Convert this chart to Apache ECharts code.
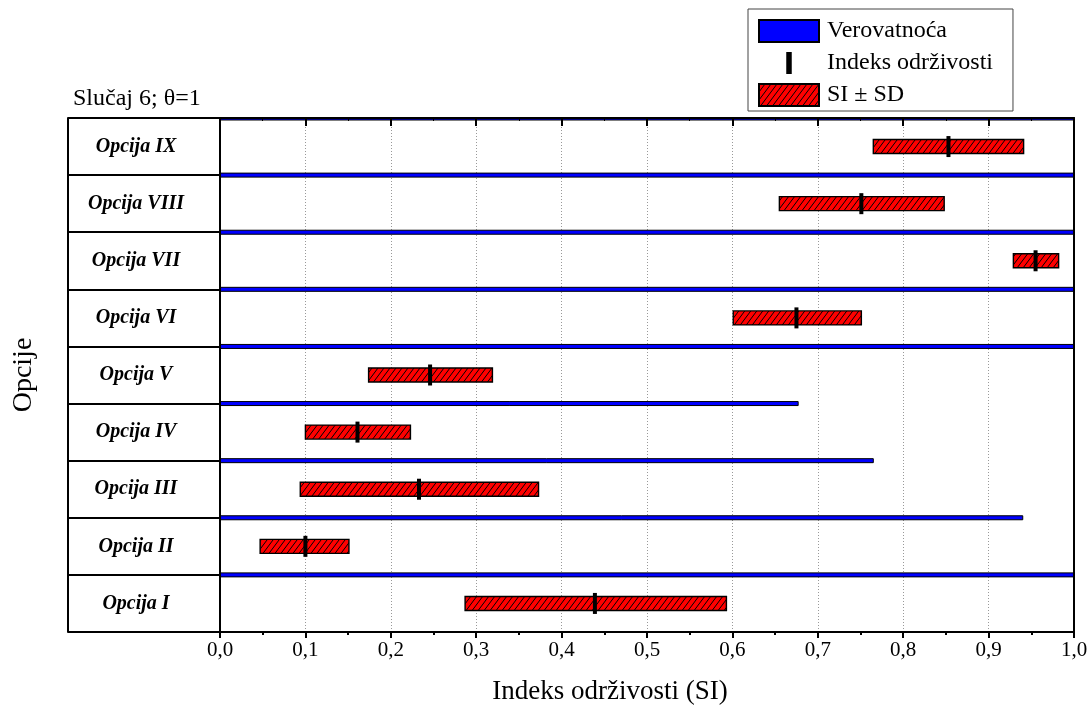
<!DOCTYPE html>
<html>
<head>
<meta charset="utf-8">
<script src="https://cdn.jsdelivr.net/npm/echarts@6/dist/echarts.min.js"></script>
<style>
html,body{margin:0;padding:0;background:#fff;}
#chart{width:1092px;height:709px;}
</style>
</head>
<body>
<div id="chart"></div>
<script>
// ---- data ----
const categories = ['Opcija I','Opcija II','Opcija III','Opcija IV','Opcija V','Opcija VI','Opcija VII','Opcija VIII','Opcija IX'];
const siValues = [0.439, 0.100, 0.233, 0.161, 0.246, 0.675, 0.955, 0.751, 0.853];
const sdLow    = [0.287, 0.047, 0.094, 0.100, 0.174, 0.601, 0.929, 0.655, 0.765];
const sdHigh   = [0.593, 0.151, 0.373, 0.223, 0.319, 0.751, 0.982, 0.848, 0.941];
const probability = [1.0, 0.94, 0.765, 0.677, 1.0, 1.0, 1.0, 1.0, 1.0];
const seriesNames = ['Verovatnoća', 'Indeks održivosti', 'SI ± SD'];
const titleText = 'Slučaj 6; θ=1';
const xName = 'Indeks održivosti (SI)';
const yName = 'Opcije';

// ---- hatch pattern ----
const pc = document.createElement('canvas');
pc.width = 6; pc.height = 8;
const pctx = pc.getContext('2d');
pctx.fillStyle = '#ff0000';
pctx.fillRect(0, 0, 6, 8);
pctx.strokeStyle = '#000';
pctx.lineWidth = 1;
pctx.beginPath();
pctx.moveTo(0, 8); pctx.lineTo(6, 0);
pctx.moveTo(-6, 8); pctx.lineTo(0, 0);
pctx.moveTo(6, 8); pctx.lineTo(12, 0);
pctx.stroke();
const hatch = { image: pc, repeat: 'repeat' };

const FONT = '"Liberation Serif", "Times New Roman", serif';
const chart = echarts.init(document.getElementById('chart'), null, { renderer: 'canvas' });

const option = {
  backgroundColor: '#fff',
  animation: false,
  title: {
    text: titleText,
    left: 68, top: 82,
    textStyle: { fontFamily: FONT, fontSize: 24, fontWeight: 'normal', color: '#000' }
  },
  legend: {
    orient: 'vertical',
    left: 748, top: 9,
    padding: [10, 20, 4, 10],
    itemWidth: 60, itemHeight: 22, itemGap: 8,
    borderColor: '#444', borderWidth: 1, backgroundColor: '#fff',
    textStyle: { fontFamily: FONT, fontSize: 24, color: '#000', padding: [0, 0, 0, 3] },
    data: [
      { name: seriesNames[0], icon: 'rect' },
      { name: seriesNames[1], icon: 'path://M0,0h1v4h-1z' },
      { name: seriesNames[2], icon: 'rect' }
    ]
  },
  grid: { left: 220, right: 18, top: 118, bottom: 77, containLabel: false, outerBoundsMode: 'none' },
  xAxis: [
    {
      type: 'value', min: 0, max: 1, interval: 0.1, position: 'bottom',
      name: xName, nameLocation: 'middle', nameGap: 46,
      nameTextStyle: { fontFamily: FONT, fontSize: 27, color: '#000', padding: [0, 74, 0, 0] },
      axisLine: { show: true, onZero: false, lineStyle: { color: '#000', width: 2 } },
      axisTick: { show: true, inside: false, length: 6, lineStyle: { color: '#000', width: 2 } },
      minorTick: { show: true, splitNumber: 2, length: 3, lineStyle: { color: '#000', width: 2 } },
      axisLabel: { margin: 8, fontFamily: FONT, fontSize: 21, color: '#000',
        formatter: v => v.toFixed(1).replace('.', ',') },
      splitLine: { show: true, lineStyle: { color: '#999', type: [1, 2], width: 1 } }
    },
    {
      type: 'value', min: 0, max: 1, interval: 0.1, position: 'top', z: 10,
      axisLine: { show: true, onZero: false, lineStyle: { color: '#000', width: 2 } },
      axisTick: { show: true, inside: true, length: 8, lineStyle: { color: '#000', width: 2 } },
      minorTick: { show: true, splitNumber: 2, length: 3, lineStyle: { color: '#000', width: 1 } },
      axisLabel: { show: false },
      splitLine: { show: false }
    }
  ],
  yAxis: [
    {
      type: 'category', data: categories, position: 'left', boundaryGap: true, z: 10,
      name: yName, nameLocation: 'middle', nameGap: 182, nameRotate: 90,
      nameTextStyle: { fontFamily: FONT, fontSize: 28, color: '#000' },
      axisLine: { show: true, onZero: false, lineStyle: { color: '#000', width: 2 } },
      axisTick: { show: true, inside: false, length: 152, lineStyle: { color: '#000', width: 2 } },
      axisLabel: { margin: 84, align: 'center', fontFamily: FONT, fontSize: 20,
        fontWeight: 'bold', fontStyle: 'italic', color: '#000' },
      splitLine: { show: false }
    },
    {
      type: 'category', data: categories, position: 'left', offset: 152,
      axisLine: { show: true, onZero: false, lineStyle: { color: '#000', width: 2 } },
      axisTick: { show: false }, axisLabel: { show: false }, splitLine: { show: false }
    },
    {
      type: 'category', data: categories, position: 'right', z: 10,
      axisLine: { show: true, onZero: false, lineStyle: { color: '#000', width: 2 } },
      axisTick: { show: false }, axisLabel: { show: false }, splitLine: { show: false }
    }
  ],
  series: [
    {
      name: seriesNames[0], type: 'custom', clip: true,
      xAxisIndex: 0, yAxisIndex: 0,
      itemStyle: { color: '#0000ff', borderColor: '#000', borderWidth: 1 },
      encode: { x: 1, y: 0 },
      data: probability.map((p, i) => [i, p]),
      renderItem: function (params, api) {
        const i = api.value(0), p = api.value(1);
        const s = api.coord([0, i]), e = api.coord([p, i]);
        const band = api.size([0, 1])[1];
        const y = s[1] - band / 2;
        return { type: 'rect', shape: { x: s[0], y: y - 2, width: e[0] - s[0], height: 4 },
          style: { fill: '#0000ff', stroke: '#000', lineWidth: 1 } };
      }
    },
    {
      name: seriesNames[2], type: 'custom', clip: true,
      xAxisIndex: 0, yAxisIndex: 0,
      itemStyle: { color: hatch, borderColor: '#000', borderWidth: 1 },
      encode: { x: [1, 2], y: 0 },
      data: sdLow.map((lo, i) => [i, lo, sdHigh[i]]),
      renderItem: function (params, api) {
        const i = api.value(0);
        const a = api.coord([api.value(1), i]), b = api.coord([api.value(2), i]);
        const h = 14;
        return { type: 'rect', shape: { x: a[0], y: a[1] - h / 2, width: b[0] - a[0], height: h },
          style: { fill: hatch, stroke: '#000', lineWidth: 1.4 } };
      }
    },
    {
      name: seriesNames[1], type: 'custom', clip: true, z: 5,
      xAxisIndex: 0, yAxisIndex: 0,
      itemStyle: { color: '#000' },
      encode: { x: 1, y: 0 },
      data: siValues.map((v, i) => [i, v]),
      renderItem: function (params, api) {
        const i = api.value(0);
        const c = api.coord([api.value(1), i]);
        return { type: 'rect', shape: { x: c[0] - 2, y: c[1] - 10.5, width: 4, height: 21 },
          style: { fill: '#000' } };
      }
    }
  ]
};
chart.setOption(option);
</script>
</body>
</html>
